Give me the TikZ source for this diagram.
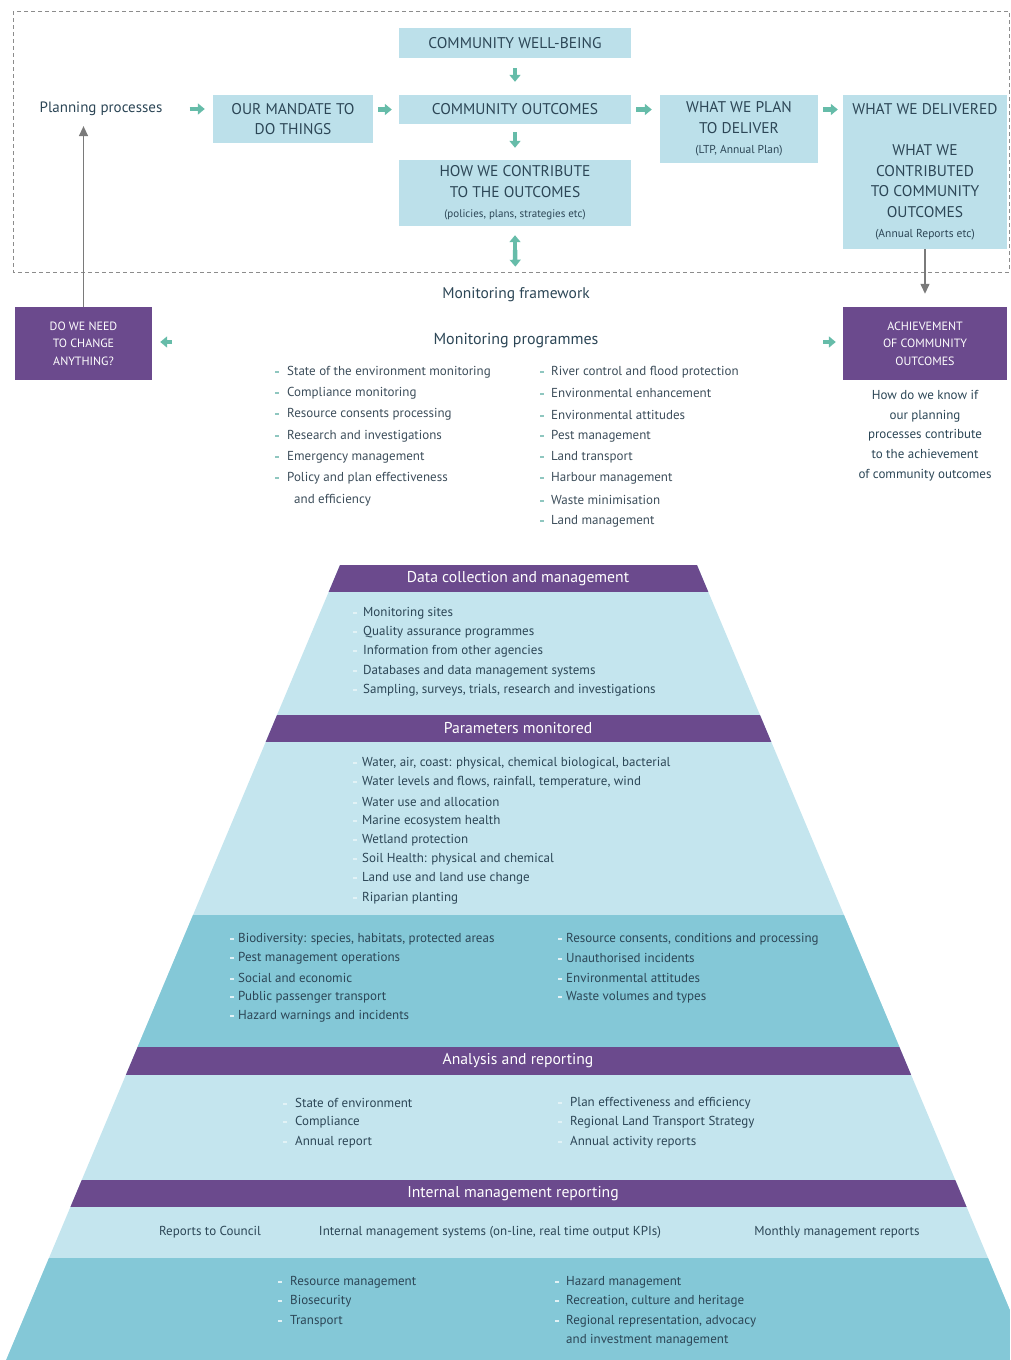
\documentclass[tikz,border=0pt]{standalone}
\usepackage{fontspec}
\setmainfont{PT Sans}
\usetikzlibrary{arrows.meta}
\definecolor{boxc}{HTML}{BCE0EA}
\definecolor{purp}{HTML}{6B4A8D}
\definecolor{plight}{HTML}{C4E5EE}
\definecolor{pdark}{HTML}{84C8D7}
\definecolor{boxtxt}{HTML}{2C4656}
\definecolor{lsttxt}{HTML}{3C4D5A}
\definecolor{garr}{HTML}{66BCA9}
\definecolor{gline}{HTML}{7A7A7A}
\definecolor{bulc}{HTML}{8FC7C0}
\definecolor{pbulc}{HTML}{E2F2F6}
\definecolor{framec}{HTML}{8C8C8C}
\newcommand\mybul[2][12pt]{\makebox[#1][l]{\textcolor{#2}{\rule[2.5pt]{4pt}{2pt}}}}
\begin{document}
\begin{tikzpicture}[x=1pt,y=-1pt,
  box/.style={fill=boxc,text=boxtxt,align=center,inner sep=0pt,font=\fontsize{15.5}{20.5}\selectfont},
  pbox/.style={fill=purp,text=white,align=center,inner sep=0pt,font=\fontsize{12}{17.5}\selectfont},
  garrow/.style={draw=garr,line width=4.5pt,-{Triangle[length=7pt,width=11pt]}},
  gconn/.style={draw=gline,line width=1.3pt,-{Triangle[length=10pt,width=9pt]}},
  lst/.style={anchor=west,inner sep=0pt,text=lsttxt,font=\fontsize{13}{15}\selectfont},
  plst/.style={anchor=west,inner sep=0pt,text=boxtxt,font=\fontsize{13}{15}\selectfont},
  phead/.style={inner sep=0pt,text=white,font=\fontsize{15.7}{18}\selectfont},
  ttl/.style={inner sep=0pt,text=boxtxt,font=\fontsize{16}{19}\selectfont}]
\useasboundingbox (0,0) rectangle (1010,1360);

% frame
\draw[framec,dash pattern=on 4pt off 3pt,line width=0.8pt] (13,11) rectangle (1009,272);

% top boxes
\node[box,minimum width=232,minimum height=30] (cwb) at (515,43) {COMMUNITY WELL-BEING};
\node[box,minimum width=232,minimum height=29] (co) at (515,109.5) {COMMUNITY OUTCOMES};
\node[box,minimum width=232,minimum height=66] (how) at (515,193) {HOW WE CONTRIBUTE\\TO THE OUTCOMES\\{\fontsize{11}{20.5}\selectfont (policies, plans, strategies etc)}};
\node[box,minimum width=160,minimum height=48] (mand) at (293,119) {OUR MANDATE TO\\DO THINGS};
\node[box,minimum width=158,minimum height=68] (plan) at (739,129) {WHAT WE PLAN\\TO DELIVER\\{\fontsize{11.5}{20.5}\selectfont (LTP, Annual Plan)}};
\node[box,minimum width=164,minimum height=154] (del) at (925,172) {WHAT WE DELIVERED\\[21pt]WHAT WE\\CONTRIBUTED\\TO COMMUNITY\\OUTCOMES\\{\fontsize{11.5}{20.5}\selectfont (Annual Reports etc)}};
\node[inner sep=0pt,text=boxtxt,font=\fontsize{15}{18}\selectfont] (pp) at (101,109) {Planning processes};

\node[ttl,font=\fontsize{15.5}{18}\selectfont] (mf) at (516,295) {Monitoring framework};
\node[ttl] (mp) at (516,341) {Monitoring programmes};
\node[pbox,minimum width=137,minimum height=73] (dwn) at (83.5,343.5) {DO WE NEED\\TO CHANGE\\ANYTHING?};
\node[pbox,minimum width=164,minimum height=73] (ach) at (925,343.5) {ACHIEVEMENT\\OF COMMUNITY\\OUTCOMES};
\node[align=center,inner sep=0pt,text=boxtxt,font=\fontsize{13}{19.75}\selectfont] (hk) at (925,435.5) {How do we know if\\our planning\\processes contribute\\to the achievement\\of community outcomes};

% green arrows
\draw[garrow,shorten <=27pt,shorten >=8pt] (pp.east) -- (pp.east -| mand.west);
\draw[garrow,shorten <=5pt,shorten >=7pt] (mand.east |- co.west) -- (co.west);
\draw[garrow,shorten <=5pt,shorten >=8pt] (co.east) -- (co.east -| plan.west);
\draw[garrow,shorten <=5pt,shorten >=5pt] (plan.east |- co.east) -- (del.west |- co.east);
\draw[garrow,shorten <=10pt,shorten >=13pt] (cwb) -- (co);
\draw[garrow,shorten <=8pt,shorten >=12pt] (co) -- (how);
\coordinate (mid) at (515,250);
\draw[garrow,shorten >=9pt] (mid) -- (how);
\draw[garrow,shorten >=21pt] (mid) -- (mf);
\coordinate (lg) at (172,342);
\draw[garrow,shorten >=8pt] (lg) -- (dwn.east |- lg);
\coordinate (rg) at (823,342);
\draw[garrow,shorten >=7pt] (rg) -- (ach.west |- rg);

% grey connectors
\draw[gconn,shorten >=13pt] (del.south) -- (ach.north);
\draw[gconn,shorten >=10pt] (dwn.north) -- (dwn.north |- pp.south);

% monitoring programme lists
\foreach \t [count=\i] in {State of the environment monitoring, Compliance monitoring, Resource consents processing, Research and investigations, Emergency management, Policy and plan effectiveness}
  \node[lst] (tl\i) at (275,{372+21.3*(\i-1)}) {\mybul[12pt]{bulc}\t};
\node[lst] (tl7) at (294,499.8) {and efficiency};
\foreach \t [count=\i] in {River control and flood protection, Environmental enhancement, Environmental attitudes, Pest management, Land transport, Harbour management, Waste minimisation, Land management}
  \node[lst] (tr\i) at (540,{372+21.3*(\i-1)}) {\mybul[11pt]{bulc}\t};

% pyramid
\begin{scope}
\clip (340,565) -- (697,565) -- (1031.7,1362) -- (5.3,1362) -- cycle;
\fill[plight] (0,565) rectangle (1010,1362);
\fill[pdark] (0,915) rectangle (1010,1047);
\fill[pdark] (0,1258) rectangle (1010,1362);
\fill[purp] (0,565) rectangle (1010,592);
\fill[purp] (0,715) rectangle (1010,742);
\fill[purp] (0,1047) rectangle (1010,1075);
\fill[purp] (0,1180) rectangle (1010,1207);
\end{scope}

\node[phead] (h1) at (518,578.5) {Data collection and management};
\node[phead] (h2) at (518,728.5) {Parameters monitored};
\node[phead] (h3) at (518,1061) {Analysis and reporting};
\node[phead] (h4) at (513,1193.5) {Internal management reporting};

\foreach \t [count=\i] in {Monitoring sites, Quality assurance programmes, Information from other agencies, Databases and data management systems, {Sampling, surveys, trials, research and investigations}}
  \node[plst] (d\i) at (353,{613+19.3*(\i-1)}) {\mybul[10pt]{pbulc}\t};
\foreach \t [count=\i] in {{Water, air, coast: physical, chemical biological, bacterial}, {Water levels and flows, rainfall, temperature, wind}, Water use and allocation, Marine ecosystem health, Wetland protection, Soil Health: physical and chemical, Land use and land use change, Riparian planting}
  \node[plst] (p\i) at (353,{763+19.3*(\i-1)}) {\mybul[9pt]{pbulc}\t};
\foreach \t [count=\i] in {{Biodiversity: species, habitats, protected areas}, Pest management operations, Social and economic, Public passenger transport, Hazard warnings and incidents}
  \node[plst] (bl\i) at (230,{939+19.3*(\i-1)}) {\mybul[8pt]{pbulc}\t};
\foreach \t [count=\i] in {{Resource consents, conditions and processing}, Unauthorised incidents, Environmental attitudes, Waste volumes and types}
  \node[plst] (br\i) at (558,{939+19.3*(\i-1)}) {\mybul[8pt]{pbulc}\t};
\foreach \t [count=\i] in {State of environment, Compliance, Annual report}
  \node[plst] (al\i) at (283,{1103+19.5*(\i-1)}) {\mybul[12pt]{pbulc}\t};
\foreach \t [count=\i] in {Plan effectiveness and efficiency, Regional Land Transport Strategy, Annual activity reports}
  \node[plst] (ar\i) at (558,{1103+19.5*(\i-1)}) {\mybul[12pt]{pbulc}\t};
\node[plst,anchor=center] (i1) at (210,1232) {Reports to Council};
\node[plst,anchor=center] (i2) at (490,1232) {Internal management systems (on-line, real time output KPIs)};
\node[plst,anchor=center] (i3) at (837,1232) {Monthly management reports};
\foreach \t [count=\i] in {Resource management, Biosecurity, Transport}
  \node[plst] (ml\i) at (278,{1282+19.5*(\i-1)}) {\mybul[12pt]{pbulc}\t};
\foreach \t [count=\i] in {Hazard management, {Recreation, culture and heritage}, {Regional representation, advocacy}}
  \node[plst] (mr\i) at (555,{1282+19.5*(\i-1)}) {\mybul[11pt]{pbulc}\t};
\node[plst] (mr4) at (566,1340.5) {and investment management};
\end{tikzpicture}
\end{document}
